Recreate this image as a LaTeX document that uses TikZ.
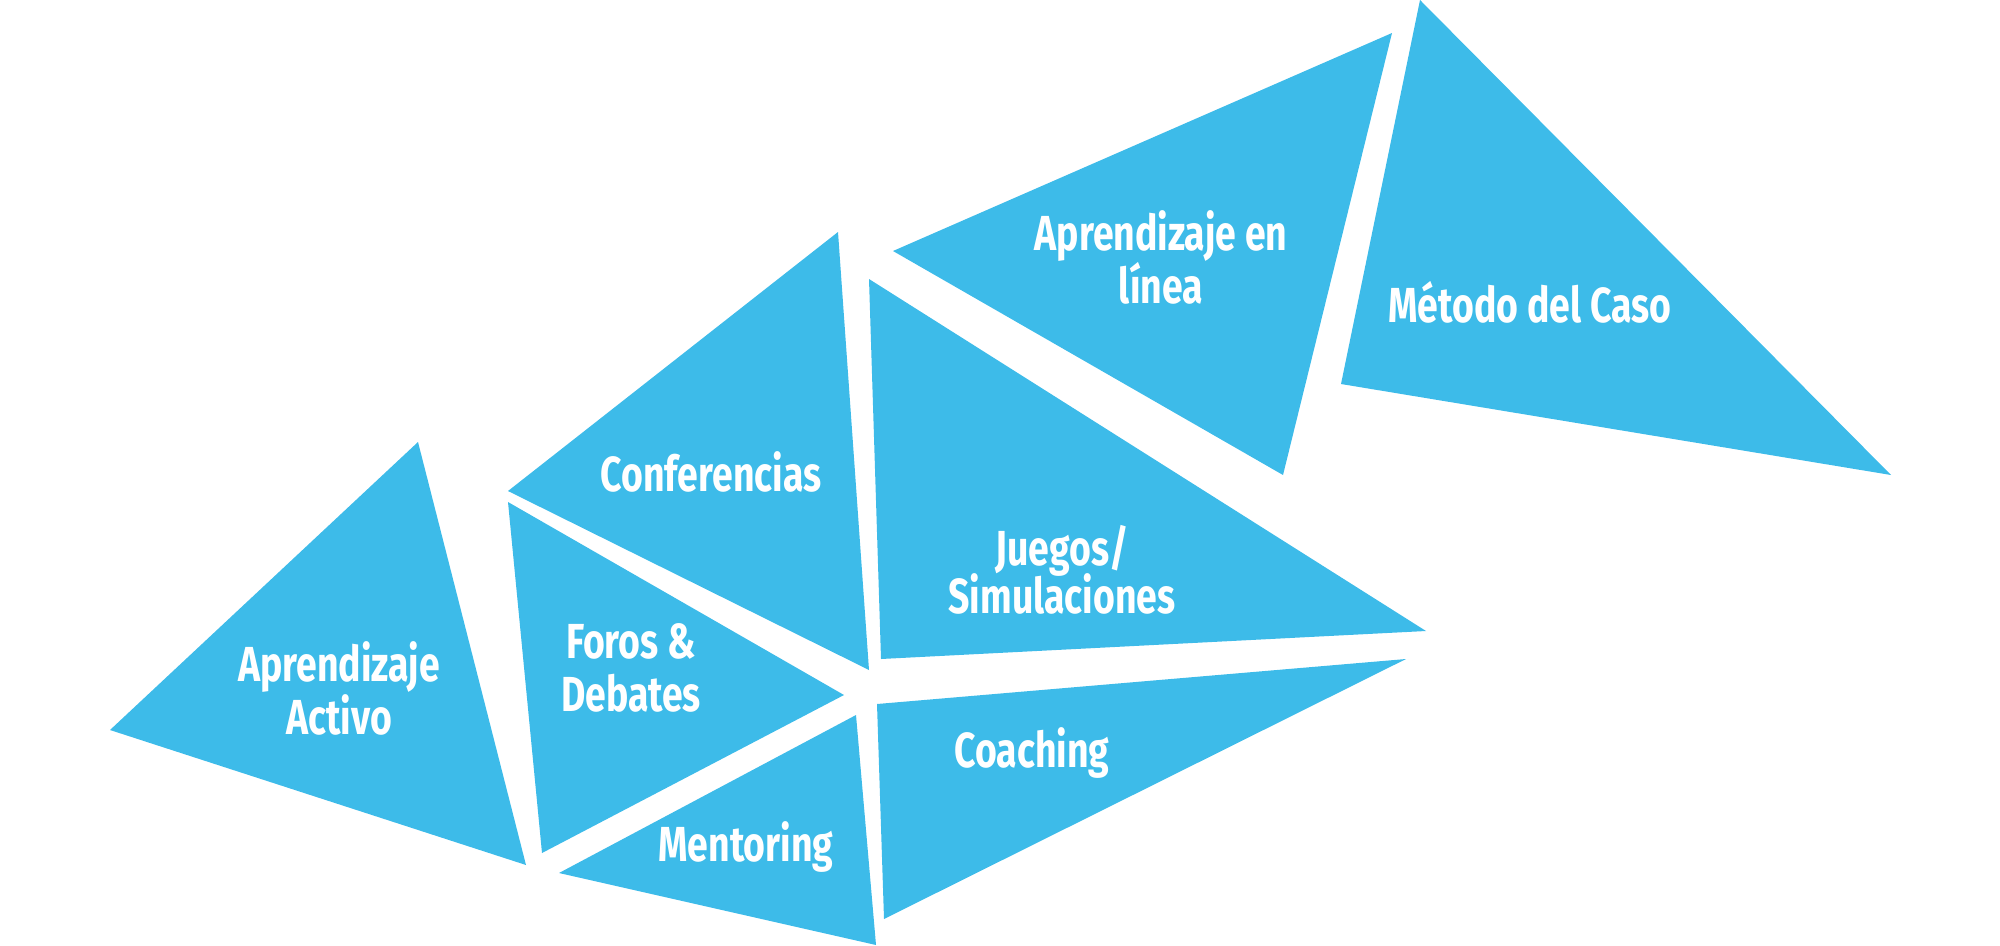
\documentclass[tikz,border=0pt]{standalone}
\usepackage{fontspec}
\usepackage{xcolor}
\usepackage{tikz}
\newfontfamily\trifont[FakeStretch=0.76]{Fira Sans}
\definecolor{triblue}{RGB}{61,187,233}

\begin{document}
\begin{tikzpicture}[
  x=0.01cm, y=-0.01cm,
  tri/.style={fill=triblue},
  lbl/.style={text=white, align=center, inner sep=0pt,
              font=\trifont\bfseries\fontsize{14}{15.1}\selectfont},
]
  \useasboundingbox (0,0) rectangle (2000,945);

  % triangles
  \fill[tri] (418,442) -- (110,730) -- (526,865) -- cycle;
  \fill[tri] (508,502) -- (844,695) -- (542,853) -- cycle;
  \fill[tri] (838,232) -- (508,491) -- (869,670) -- cycle;
  \fill[tri] (856,715) -- (559,873) -- (876,945) -- cycle;
  \fill[tri] (877,704) -- (1406,659) -- (884,919) -- cycle;
  \fill[tri] (869,279) -- (1426,631) -- (881,659) -- cycle;
  \fill[tri] (1392,33) -- (893,251) -- (1283,475) -- cycle;
  \fill[tri] (1420,0) -- (1341,384) -- (1891,475) -- cycle;

  % labels
  \node[lbl] (activo) at (339,688) {Aprendizaje\\Activo};
  \node[lbl] (foros) at (631,668) {Foros \&\\Debates};
  \node[lbl, anchor=base] (conf) at (711,491) {Conferencias};
  \node[lbl, anchor=base] (mentor) at (746,861) {Mentoring};
  \node[lbl, anchor=base] (coach) at (1032,767) {Coaching};
  \node[lbl] (juegos) at (1062,570) {Juegos/\\[-1.5pt]Simulaciones};
  \node[lbl] (linea) at (1161,257) {Aprendizaje en\\línea};
  \node[lbl, anchor=base] (caso) at (1530,322) {Método del Caso};
\end{tikzpicture}
\end{document}
